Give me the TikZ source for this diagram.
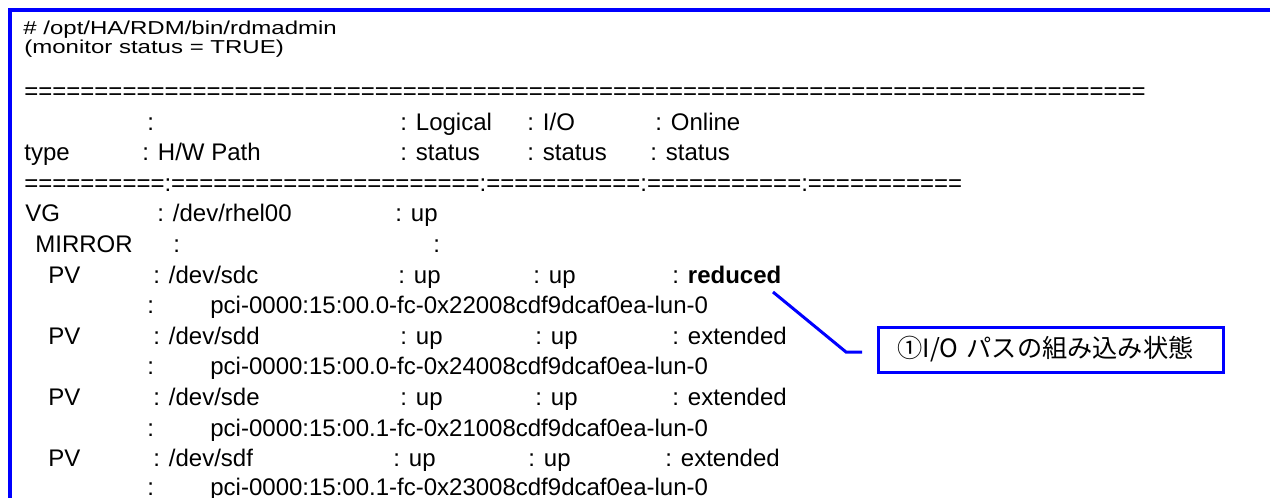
\documentclass[tikz,border=0pt]{standalone}
\usepackage{fontspec}
\usepackage{graphicx}
\setmainfont{Liberation Sans}
\newfontfamily\jpfont{Noto Sans CJK JP}
\definecolor{frameblue}{RGB}{0,0,255}
% header lines are set flatter than the listing body
\newcommand\squash[1]{\scalebox{1}[0.78]{#1}}
\begin{document}
\begin{tikzpicture}[x=0.5pt,y=-0.5pt,
  txt/.style={anchor=base west, inner sep=0pt, font=\fontsize{12}{14}\selectfont},
  bluerule/.style={draw=frameblue, line width=2pt},
  leader/.style={draw=frameblue, line width=1.5pt},
  callout/.style={draw=frameblue, line width=1.5pt, fill=white, anchor=west,
    inner xsep=9.5pt, inner ysep=0pt, text width=153.5pt, align=left,
    minimum height=22.5pt, font=\fontsize{12.6}{14}\jpfont},
]
\useasboundingbox (0,0) rectangle (1270,498);

% frame around the listing (continues past the page)
\draw[bluerule] (1300,10) -- (10,10) -- (10,530);

% command and state
\node[txt] (cmd) at (23,34) {\squash{\# /opt/HA/RDM/bin/rdmadmin}};
\node[txt] (mon) at (24,54) {\squash{(monitor status = TRUE)}};
\node[txt] (eqA) at (24,99.4) {================================================================================};

% column headings
\node[txt] (h1a) at (147,130) {:};
\node[txt] (h1b) at (400,130) {: Logical};
\node[txt] (h1c) at (527,130) {: I/O};
\node[txt] (h1d) at (655,130) {: Online};
\node[txt] (h2a) at (24,160.6) {type};
\node[txt] (h2b) at (142,160.6) {: H/W Path};
\node[txt] (h2c) at (400,160.6) {: status};
\node[txt] (h2d) at (527,160.6) {: status};
\node[txt] (h2e) at (650,160.6) {: status};
\node[txt] (eqB) at (24,191.2) {==========:======================:===========:===========:===========};

% volume group
\node[txt] (vg) at (25,221.8) {VG};
\node[txt] (vgp) at (157,221.8) {: /dev/rhel00};
\node[txt] (vgs) at (395,221.8) {: up};
\node[txt] (mir) at (35,252.4) {MIRROR};
\node[txt] (mira) at (173,252.4) {:};
\node[txt] (mirb) at (433,252.4) {:};

% physical volumes
\node[txt] (pv1) at (48,283) {PV};
\node[txt] (pv1p) at (153,283) {: /dev/sdc};
\node[txt] (pv1l) at (398,283) {: up};
\node[txt] (pv1i) at (533,283) {: up};
\node[txt] (pv1o) at (672,283) {: \textbf{reduced}};
\node[txt] (pv1c) at (147,313.6) {:};
\node[txt] (pv1h) at (210,313.6) {pci-0000:15:00.0-fc-0x22008cdf9dcaf0ea-lun-0};

\node[txt] (pv2) at (48,344.2) {PV};
\node[txt] (pv2p) at (153,344.2) {: /dev/sdd};
\node[txt] (pv2l) at (400,344.2) {: up};
\node[txt] (pv2i) at (535,344.2) {: up};
\node[txt] (pv2o) at (672,344.2) {: extended};
\node[txt] (pv2c) at (147,374.8) {:};
\node[txt] (pv2h) at (210,374.8) {pci-0000:15:00.0-fc-0x24008cdf9dcaf0ea-lun-0};

\node[txt] (pv3) at (48,405.4) {PV};
\node[txt] (pv3p) at (153,405.4) {: /dev/sde};
\node[txt] (pv3l) at (400,405.4) {: up};
\node[txt] (pv3i) at (535,405.4) {: up};
\node[txt] (pv3o) at (672,405.4) {: extended};
\node[txt] (pv3c) at (147,436) {:};
\node[txt] (pv3h) at (210,436) {pci-0000:15:00.1-fc-0x21008cdf9dcaf0ea-lun-0};

\node[txt] (pv4) at (48,466.6) {PV};
\node[txt] (pv4p) at (153,466.6) {: /dev/sdf};
\node[txt] (pv4l) at (393,466.6) {: up};
\node[txt] (pv4i) at (528,466.6) {: up};
\node[txt] (pv4o) at (665,466.6) {: extended};
\node[txt] (pv4c) at (147,495.5) {:};
\node[txt] (pv4h) at (210,495.5) {pci-0000:15:00.1-fc-0x23008cdf9dcaf0ea-lun-0};

% callout for the online status
\node[callout] (note) at (877,349.5) {①I/O パスの組み込み状態};
\coordinate (lead0) at (773,292);
\coordinate (lead1) at (846,352);
\coordinate (lead2) at (862,352);
\draw[leader] (lead0) -- (lead1) -- (lead2);
\end{tikzpicture}
\end{document}
